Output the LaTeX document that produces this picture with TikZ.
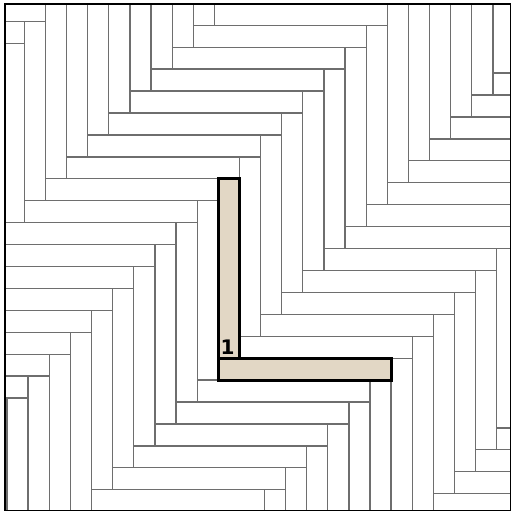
\documentclass[tikz,border=0pt]{standalone}
\usepackage{fontspec}
\newfontfamily\labelfont{DejaVu Sans}
\definecolor{plankline}{HTML}{6E6E6E}
\definecolor{beige}{HTML}{E2D7C5}
\begin{document}
\begin{tikzpicture}[x=10.565pt, y=10.965pt,
  plank/.style={draw=plankline, line width=0.65pt},
  keyplank/.style={draw=black, line width=1.5pt, fill=beige},
  framebox/.style={draw=black, line width=0.9pt}]
\pgfmathsetmacro{\plankr}{8.18}
\useasboundingbox (-10.331,-6.015) rectangle (13.900,17.333);
\fill[white] (-10.331,-6.015) rectangle (13.900,17.333);
\begin{scope}
\clip (-10.095,-5.951) rectangle (13.829,17.136);
\foreach \mm in {-1,...,2}{
 \foreach \kk in {-30,...,30}{
   \pgfmathsetmacro{\uo}{\kk-\mm*\plankr}
   \pgfmathsetmacro{\vo}{\kk+\mm*\plankr}
   \draw[plank] (\uo,\vo) rectangle ++(\plankr,1);
   \draw[plank] (\uo,\vo+1) rectangle ++(1,\plankr);
 }
}
\end{scope}
\draw[keyplank] (0,1) rectangle (1,1+\plankr);
\draw[keyplank] (0,0) rectangle (\plankr,1);
\node[font=\labelfont\bfseries\fontsize{10}{11}\selectfont, inner sep=0pt] (label) at (0.435,1.5) {1};
\draw[framebox] (-10.095,-5.951) rectangle (13.829,17.136);
\end{tikzpicture}
\end{document}
